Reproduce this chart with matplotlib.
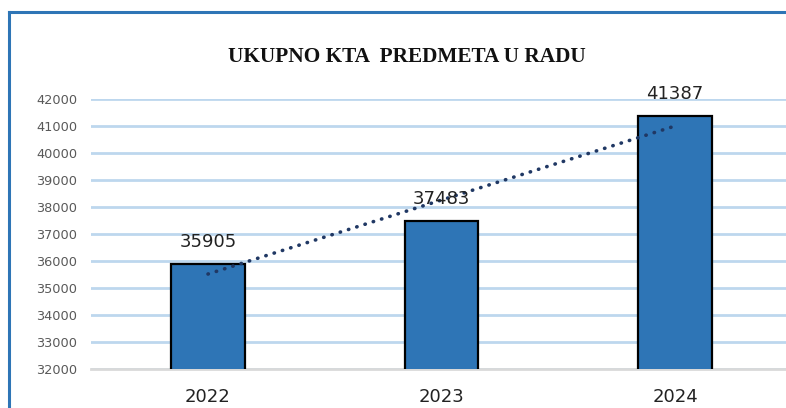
import numpy as np
import matplotlib.pyplot as plt
from matplotlib.lines import Line2D

years = ['2022', '2023', '2024']
values = [35905, 37483, 41387]
y_ticks = list(range(32000, 42001, 1000))
title = 'UKUPNO KTA  PREDMETA U RADU'

W, H = 786, 408
fig = plt.figure(figsize=(W / 100, H / 100), dpi=100)

# blue frame of the chart box (left and top visible only)
fig.add_artist(Line2D([9 / W, 9 / W], [0, 1 - 12 / H], color='#2E75B6', lw=2.2,
                      transform=fig.transFigure))
fig.add_artist(Line2D([9 / W, 1], [1 - 12 / H, 1 - 12 / H], color='#2E75B6', lw=2.2,
                      transform=fig.transFigure))

# axes: 32000 at y=369, 42000 at y=99; categories spaced ~233.5px starting at 208
left = 91.25 / W
right_px = 791.75
bottom = 1 - 369 / H
top = 1 - 99 / H
ax = fig.add_axes([left, bottom, (right_px - 91.25) / W, top - bottom])

x = np.arange(len(years))
ax.bar(x, values, width=0.315, color='#2E75B6', edgecolor='black', linewidth=1.6, zorder=3)

# linear trendline
coef = np.polyfit(x, values, 1)
ax.plot(x, np.polyval(coef, x), linestyle=(0, (0.1, 2.3)), dash_capstyle='round',
        color='#203864', lw=2.6, zorder=4)

for xi, v in zip(x, values):
    ax.annotate(str(v), (xi, v), xytext=(0, 9), textcoords='offset points',
                ha='center', va='bottom', fontsize=13, color='#222222', zorder=5)

ax.set_xlim(-0.5, len(years) - 0.5)
ax.set_ylim(32000, 42000)
ax.set_yticks(y_ticks)
ax.set_yticklabels([str(t) for t in y_ticks], fontsize=9.3, color='#595959')
ax.set_xticks(x)
ax.set_xticklabels(years, fontsize=13, color='#222222')
ax.tick_params(axis='both', length=0)
ax.tick_params(axis='y', pad=10)
ax.tick_params(axis='x', pad=14)
ax.grid(axis='y', color='#BDD7EE', lw=2, zorder=0)
for s in ['top', 'right', 'left']:
    ax.spines[s].set_visible(False)
ax.spines['bottom'].set_color('#D9D9D9')
ax.spines['bottom'].set_linewidth(2)

fig.text(407 / W, 1 - 57 / H, title, ha='center', va='center', fontsize=15.3,
         fontweight='bold', family='Liberation Serif', color='#111111')

fig.savefig('out.png', dpi=100)
